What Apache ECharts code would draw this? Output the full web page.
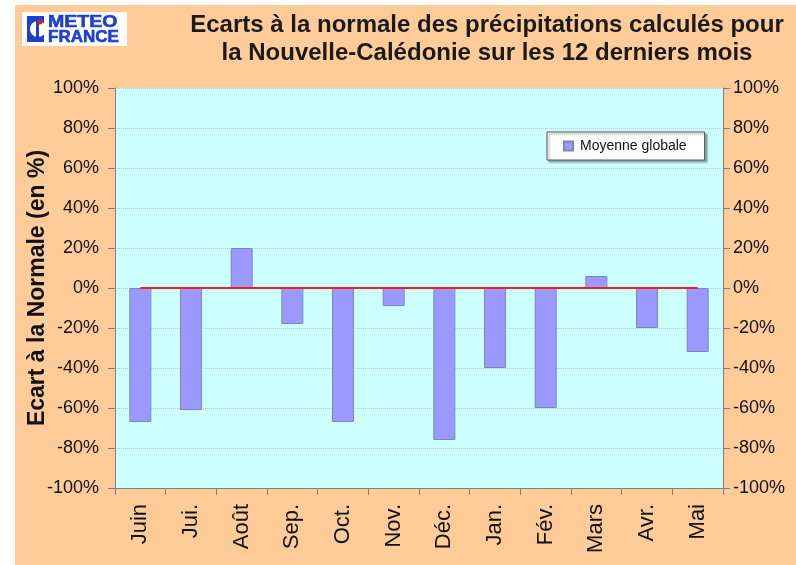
<!DOCTYPE html>
<html><head><meta charset="utf-8">
<script src="https://cdn.jsdelivr.net/npm/echarts@6/dist/echarts.min.js"></script>
<style>html,body{margin:0;padding:0;background:#fff}#main{width:796px;height:565px}</style>
</head><body><div id="main"></div>
<script>
const categories = ['Juin','Jui.','Août','Sep.','Oct.','Nov.','Déc.','Jan.','Fév.','Mars','Avr.','Mai'];
const values = [-67,-61,20,-18,-67,-9,-76,-40,-60,6,-20,-32];
const zeroLine = [0,0,0,0,0,0,0,0,0,0,0,0];
const seriesName = 'Moyenne globale';
const titleText = 'Ecarts à la normale des précipitations calculés pour\nla Nouvelle-Calédonie sur les 12 derniers mois';
const yName = 'Ecart à la Normale (en %)';
const yMin = -100, yMax = 100, yStep = 20;

const FONT = 'Liberation Sans, Arial, sans-serif';
const chart = echarts.init(document.getElementById('main'), null, {renderer:'canvas'});
const yAxisBase = {
  type:'value', min:yMin, max:yMax, interval:yStep,
  axisLine:{show:true, lineStyle:{color:'#7f7f7f', width:1}},
  axisTick:{show:true, length:7, lineStyle:{color:'#7f7f7f'}},
  splitLine:{show:false},
  axisLabel:{formatter:'{value}%', color:'#111', fontSize:18, fontFamily:FONT}
};
chart.setOption({
  animation:false,
  backgroundColor:'#ffffff',
  graphic:[
    {type:'rect', z:-10, shape:{x:15,y:5,width:781,height:560}, style:{fill:'#FFCC99'}},
    {type:'rect', z:5, shape:{x:22,y:12,width:105,height:34}, style:{fill:'#ffffff'}},
    {type:'rect', z:6, shape:{x:27,y:16,width:17,height:26}, style:{fill:'#1f3fd0'}},
    {type:'circle', z:7, shape:{cx:38,cy:29,r:8}, style:{fill:'#ffffff'}},
    {type:'rect', z:8, shape:{x:36,y:18,width:3,height:22}, style:{fill:'#1f3fd0'}},
    {type:'circle', z:9, shape:{cx:40,cy:22,r:2.5}, style:{fill:'#e02020'}},
    {type:'text', z:6, x:48, y:14, scaleX:1.15, style:{text:'METEO', fill:'#1f3fd0', font:'bold 17px '+FONT, textVerticalAlign:'top', stroke:'#1f3fd0', lineWidth:0.6}},
    {type:'text', z:6, x:48, y:29, style:{text:'FRANCE', fill:'#1f3fd0', font:'bold 17px '+FONT, textVerticalAlign:'top', stroke:'#1f3fd0', lineWidth:0.6}}
  ],
  title:{
    text:titleText, left:482, top:6, textAlign:'center',
    textStyle:{fontSize:24, fontWeight:'bold', color:'#1a1a1a', fontFamily:FONT, lineHeight:28}
  },
  legend:{
    data:[seriesName], left:547, top:132, width:160,
    backgroundColor:'#ffffff', borderColor:'#555', borderWidth:1,
    padding:[7,18,7,16], itemWidth:9, itemHeight:9, itemGap:10,
    shadowColor:'rgba(0,0,0,0.35)', shadowOffsetX:2, shadowOffsetY:2, shadowBlur:2,
    icon:'rect',
    textStyle:{fontSize:14, color:'#111', fontFamily:FONT, padding:[0,0,0,2]}
  },
  grid:{left:115, right:73, top:88, bottom:77, show:true, backgroundColor:'#CCFFFF', borderWidth:0},
  xAxis:{
    type:'category', data:categories,
    axisLine:{show:true, onZero:false, lineStyle:{color:'#7f7f7f'}},
    axisTick:{show:true, length:7, alignWithLabel:false, lineStyle:{color:'#7f7f7f'}},
    axisLabel:{rotate:90, margin:16, interval:0, fontSize:22, color:'#111', fontFamily:FONT}
  },
  yAxis:[
    Object.assign({}, yAxisBase, {position:'left', name:yName, nameLocation:'middle', nameGap:66,
      nameMoveOverlap:false,
      nameTextStyle:{fontSize:23, fontWeight:'bold', color:'#111', fontFamily:FONT},
      axisLabel:Object.assign({}, yAxisBase.axisLabel, {margin:16}),
      splitLine:{show:true, lineStyle:{type:'dotted', color:'#b3cbd8', width:1}}}),
    Object.assign({}, yAxisBase, {position:'right',
      axisLabel:Object.assign({}, yAxisBase.axisLabel, {margin:10})})
  ],
  series:[
    {name:seriesName, type:'bar', data:values, barWidth:22, yAxisIndex:0,
     itemStyle:{color:'#9999FF', borderColor:'#7a88b8', borderWidth:1}},
    {name:'zero', type:'line', data:zeroLine, yAxisIndex:0, symbol:'none', z:5,
     lineStyle:{color:'#ff1a1a', width:2}, silent:true}
  ]
});
</script></body></html>
